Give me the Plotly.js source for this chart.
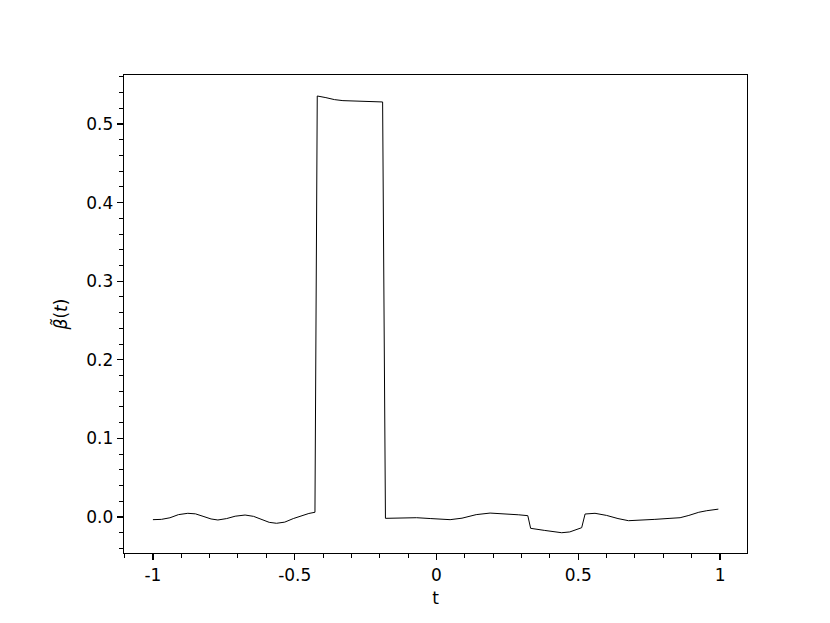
<!DOCTYPE html>
<html>
<head>
<meta charset="utf-8">
<script src="https://cdn.plot.ly/plotly-3.0.1.min.js"></script>
<style>
  html, body { margin: 0; padding: 0; background: #fff; }
  #graph { width: 830px; height: 623px; }
</style>
</head>
<body>
<div id="graph"></div>
<script>
// values
const tValues = [
    -1.0, -0.97, -0.94, -0.91, -0.877, -0.85, -0.82, -0.795, -0.771, -0.74,
    -0.71, -0.675, -0.645, -0.615, -0.59, -0.564, -0.535, -0.505, -0.475, -0.45,
    -0.4286, -0.4205, -0.39, -0.36, -0.33, -0.29, -0.24, -0.19, -0.18, -0.13,
    -0.07, -0.02, 0.048, 0.09, 0.14, 0.189, 0.24, 0.29, 0.322, 0.332,
    0.38, 0.42, 0.4416, 0.47, 0.512, 0.524, 0.559, 0.6, 0.64, 0.677,
    0.72, 0.77, 0.82, 0.859, 0.89, 0.925, 0.953, 0.994
];
const betaValues = [
    -0.0034, -0.003, -0.001, 0.003, 0.0047, 0.004, 0.0005, -0.0025, -0.0038, -0.002,
    0.001, 0.0025, 0.0008, -0.0035, -0.0068, -0.008, -0.0065, -0.002, 0.002, 0.0045,
    0.006, 0.5356, 0.5335, 0.531, 0.5297, 0.529, 0.5285, 0.528, -0.0017, -0.0012,
    -0.0009, -0.002, -0.0034, -0.0015, 0.003, 0.005, 0.0043, 0.0028, 0.0017, -0.0144,
    -0.017, -0.0192, -0.02, -0.019, -0.0136, 0.0038, 0.0047, 0.002, -0.002, -0.0047,
    -0.0042, -0.003, -0.0018, -0.0009, 0.002, 0.006, 0.008, 0.010
];
const xTickVals = [-1, -0.5, 0, 0.5, 1];
const xTickText = ['-1', '-0.5', '0', '0.5', '1'];
const yTickVals = [0, 0.1, 0.2, 0.3, 0.4, 0.5];
const yTickText = ['0.0', '0.1', '0.2', '0.3', '0.4', '0.5'];

const font = { family: 'DejaVu Sans', size: 17, color: '#000' };

const data = [{
    x: tValues, y: betaValues,
    mode: 'lines', type: 'scatter',
    line: { color: '#000', width: 1 },
    hoverinfo: 'skip'
}];

const axisBase = {
    showgrid: false, zeroline: false,
    showline: true, linecolor: '#000', linewidth: 1.3, mirror: true,
    ticks: 'outside', ticklen: 6, tickwidth: 1.2, tickcolor: '#000',
    tickfont: font
};

Plotly.newPlot('graph', data, {
    width: 830, height: 623,
    margin: { l: 124, r: 83, t: 75, b: 70 },
    paper_bgcolor: '#fff', plot_bgcolor: '#fff',
    showlegend: false,
    font: font,
    xaxis: Object.assign({}, axisBase, {
        range: [-1.102, 1.095],
        tickvals: xTickVals, ticktext: xTickText,
        minor: { dtick: 0.1, tick0: 0, ticks: 'outside', ticklen: 3.5, tickwidth: 1, tickcolor: '#000' },
        title: { text: 't', font: font, standoff: 8 }
    }),
    yaxis: Object.assign({}, axisBase, {
        range: [-0.0458, 0.5623],
        tickvals: yTickVals, ticktext: yTickText,
        minor: { dtick: 0.02, tick0: 0, ticks: 'outside', ticklen: 3.5, tickwidth: 1, tickcolor: '#000' },
        title: { text: '<i>β̃</i>(<i>t</i>)', font: font, standoff: 14 }
    })
}, { staticPlot: true });
</script>
</body>
</html>
